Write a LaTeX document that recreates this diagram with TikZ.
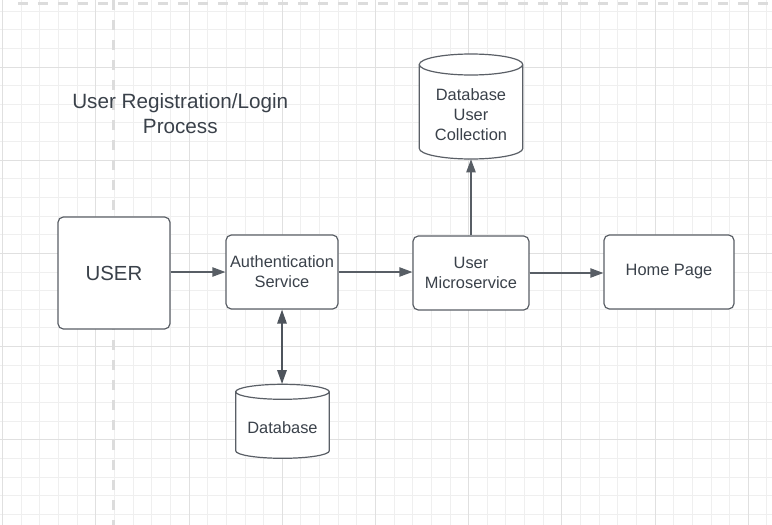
\documentclass[tikz,border=0pt]{standalone}
\usepackage{fontspec}
\setmainfont{Liberation Sans}
\usetikzlibrary{arrows.meta}
\definecolor{ink}{HTML}{3A414A}
\definecolor{edgec}{HTML}{5A5F66}
\definecolor{gridminor}{HTML}{EFEFEF}
\definecolor{gridmajor}{HTML}{E0E0E0}
\definecolor{pagedash}{HTML}{DCDCDC}
\begin{document}
\begin{tikzpicture}[x=0.75pt,y=-0.75pt,
  boxnode/.style={draw=edgec, line width=0.9pt, rounded corners=4pt, fill=white,
    align=center, text=ink, font=\fontsize{12.3}{15}\selectfont, inner sep=0pt},
  cylarea/.style={inner sep=0pt},
  cylline/.style={draw=edgec, line width=0.9pt, fill=white},
  txt/.style={text=ink, align=center, font=\fontsize{12.3}{15}\selectfont, inner sep=0pt},
  conn/.style={draw=ink!85, line width=0.9pt, -{Triangle[length=9.75pt,width=7pt]}},
  conntwo/.style={draw=ink!90, line width=1.5pt, {Triangle[length=10.5pt,width=7pt]}-{Triangle[length=10.5pt,width=7pt]}},
  minorline/.style={draw=gridminor, line width=0.75pt},
  majorline/.style={draw=gridmajor, line width=0.75pt},
  pageline/.style={draw=pagedash, line width=2.25pt, dash pattern=on 7.5pt off 7.5pt}]
\useasboundingbox (0,0) rectangle (772,525);
\fill[white] (0,0) rectangle (772,525);
% grid
\foreach \i in {0,...,41} \draw[minorline] ({2.7+\i*18.64},0) -- ({2.7+\i*18.64},525);
\foreach \i in {0,...,27} \draw[minorline] (0,{11.1+\i*18.64}) -- (772,{11.1+\i*18.64});
\foreach \i in {0,...,8} \draw[majorline] ({2.7+\i*93.2},0) -- ({2.7+\i*93.2},525);
\foreach \i in {0,...,4} \draw[majorline] (0,{67+\i*93.2}) -- (772,{67+\i*93.2});
% page boundaries
\draw[pageline] (18,3.3) -- (772,3.3);
\draw[pageline] (113,0) -- (113,525);
% title
\node[text=ink, align=center, font=\fontsize{15.5}{18.75}\selectfont, inner sep=0pt] (title) at (180.3,113.5) {User Registration/Login\\Process};
% boxes
\node[boxnode, minimum width=84pt, minimum height=84pt, font=\fontsize{15.3}{18}\selectfont] (user) at (114,273) {USER};
\node[boxnode, minimum width=84pt, minimum height=55.5pt] (auth) at (282,272) {Authentication\\Service};
\node[boxnode, minimum width=87pt, minimum height=55.5pt] (micro) at (471,273) {User\\Microservice};
\node[boxnode, minimum width=97.5pt, minimum height=55.5pt] (home) at (669,272) {Home Page};
% cylinder: database user collection
\node[cylarea, minimum width=77.55pt, minimum height=78.75pt] (dbc) at (471,106.5) {};
\filldraw[cylline] (419.3,64.5) -- (419.3,148.5) arc[start angle=180, end angle=0, x radius=51.7, y radius=10.5]
  -- (522.7,64.5) arc[start angle=0, end angle=-180, x radius=51.7, y radius=10.5] -- cycle;
\draw[cylline, fill=none] (419.3,64.5) arc[start angle=180, end angle=0, x radius=51.7, y radius=10.5];
\node[txt] (dbctext) at (471,115) {Database\\User\\Collection};
% cylinder: database
\node[cylarea, minimum width=70.2pt, minimum height=55.5pt] (db) at (282.5,421.3) {};
\filldraw[cylline] (235.7,391.8) -- (235.7,450.8) arc[start angle=180, end angle=0, x radius=46.8, y radius=7.5]
  -- (329.3,391.8) arc[start angle=0, end angle=-180, x radius=46.8, y radius=7.5] -- cycle;
\draw[cylline, fill=none] (235.7,391.8) arc[start angle=180, end angle=0, x radius=46.8, y radius=7.5];
\node[txt] (dbtext) at (282.5,427.7) {Database};
% connectors
\draw[conn] (user.east |- auth.west) -- (auth.west);
\draw[conn] (auth.east) -- (auth.east -| micro.west);
\draw[conn] (micro.east) -- (micro.east -| home.west);
\draw[conn] (micro.north) -- (dbc.south);
\draw[conntwo] (auth.south) -- (auth.south |- db.north);
\end{tikzpicture}
\end{document}
